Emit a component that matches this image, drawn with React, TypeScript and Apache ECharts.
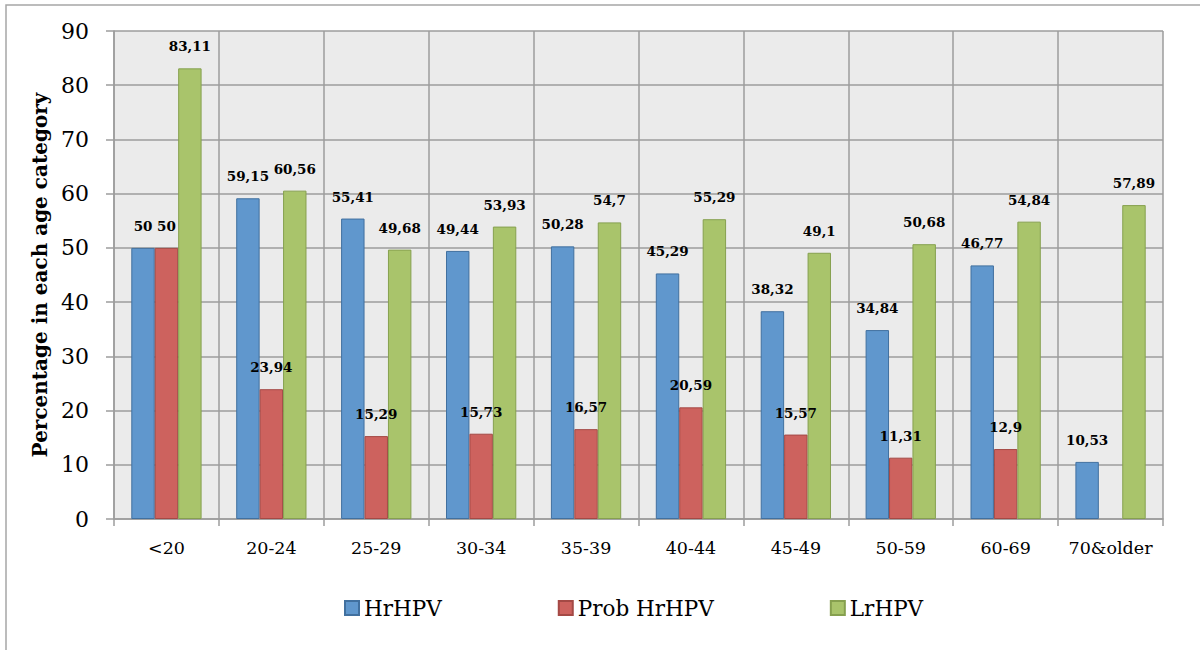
import React, { useEffect, useRef } from "react";
import * as echarts from "echarts";

const categories = ["<20", "20-24", "25-29", "30-34", "35-39", "40-44", "45-49", "50-59", "60-69", "70&older"];
const hrHPV = [50, 59.15, 55.41, 49.44, 50.28, 45.29, 38.32, 34.84, 46.77, 10.53];
const probHrHPV: (number | null)[] = [50, 23.94, 15.29, 15.73, 16.57, 20.59, 15.57, 11.31, 12.9, null];
const lrHPV = [83.11, 60.56, 49.68, 53.93, 54.7, 55.29, 49.1, 50.68, 54.84, 57.89];
const seriesNames = ["HrHPV", "Prob HrHPV", "LrHPV"];
const yTitle = "Percentage in each age category";

const FONT = "'DejaVu Serif', 'Liberation Serif', serif";

export default function App() {
  const ref = useRef<HTMLDivElement>(null);
  useEffect(() => {
    document.body.style.margin = "0";
    const chart = echarts.init(ref.current!, undefined, { renderer: "svg" });
    const mk = (name: string, data: (number | null)[], fill: string, border: string) => ({
      name,
      type: "bar",
      data,
      barGap: "0%",
      barCategoryGap: "33%",
      itemStyle: { color: fill, borderColor: border, borderWidth: 1 },
      label: {
        show: true,
        position: "top",
        distance: 15,
        fontFamily: FONT,
        fontWeight: "bold",
        fontSize: 13.5,
        color: "#000",
        formatter: (p: any) => String(p.value).replace(".", ","),
      },
    });
    chart.setOption({
      animation: false,
      backgroundColor: "#fff",
      textStyle: { fontFamily: FONT },
      graphic: [
        {
          type: "rect",
          shape: { x: 6, y: 5, width: 1210, height: 660 },
          style: { fill: "none", stroke: "#a6a6a6", lineWidth: 1.5 },
          z: -10,
          silent: true,
        },
        {
          type: "text",
          x: 40,
          y: 275,
          rotation: Math.PI / 2,
          style: {
            text: yTitle,
            font: `bold 20px ${FONT}`,
            fill: "#000",
            align: "center",
            verticalAlign: "middle",
          },
        },
      ],
      grid: {
        left: 114,
        right: 37,
        top: 31,
        bottom: 131,
        show: true,
        backgroundColor: "#ebebeb",
        borderWidth: 0,
      },
      legend: {
        left: 339,
        top: 592,
        itemWidth: 14,
        itemHeight: 14,
        itemGap: 116,
        icon: "rect",
        textStyle: { fontFamily: FONT, fontSize: 21.5, color: "#000", padding: [0, 0, 0, 0] },
        data: seriesNames,
      },
      xAxis: {
        type: "category",
        data: categories,
        axisLine: { show: true, lineStyle: { color: "#9c9c9c", width: 1.5 } },
        axisTick: { show: true, interval: 0, length: 7, lineStyle: { color: "#9c9c9c", width: 1.5 } },
        splitLine: { show: true, interval: 0, lineStyle: { color: "#9c9c9c", width: 1.5 } },
        axisLabel: { interval: 0, fontFamily: FONT, fontSize: 17.5, color: "#000", margin: 20 },
      },
      yAxis: {
        type: "value",
        min: 0,
        max: 90,
        interval: 10,
        axisLine: { show: true, lineStyle: { color: "#9c9c9c", width: 1.5 } },
        axisTick: { show: true, length: 8, inside: false, lineStyle: { color: "#9c9c9c", width: 1.5 } },
        splitLine: { show: true, lineStyle: { color: "#9c9c9c", width: 1.5 } },
        axisLabel: { fontFamily: FONT, fontSize: 22, color: "#000", margin: 25 },
      },
      series: [
        mk(seriesNames[0], hrHPV, "#6097cd", "#41709f"),
        mk(seriesNames[1], probHrHPV, "#cd625e", "#a44945"),
        mk(seriesNames[2], lrHPV, "#a9c46b", "#86a04f"),
      ],
    });
    return () => chart.dispose();
  }, []);
  return <div ref={ref} style={{ width: 1200, height: 650 }} />;
}
